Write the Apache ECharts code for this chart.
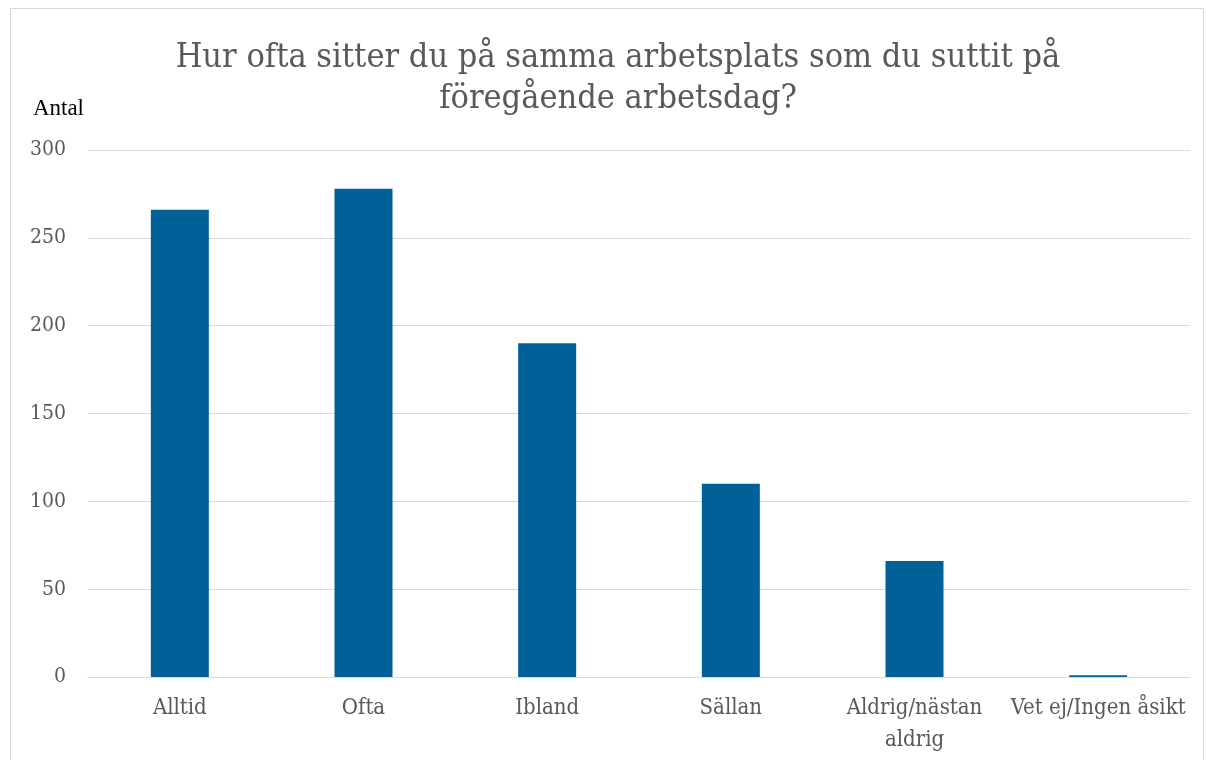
<!DOCTYPE html>
<html>
<head>
<meta charset="utf-8">
<script src="https://cdn.jsdelivr.net/npm/echarts@6/dist/echarts.min.js"></script>
<style>
  html, body { margin: 0; padding: 0; background: #fff; }
  #chart { width: 1207px; height: 760px; }
</style>
</head>
<body>
<div id="chart"></div>
<script>
const categories = ['Alltid', 'Ofta', 'Ibland', 'Sällan', 'Aldrig/nästan\naldrig', 'Vet ej/Ingen åsikt']
const antal = [266, 278, 190, 110, 66, 1]

const serif = '"DejaVu Serif Condensed", "Liberation Serif", serif'

const chart = echarts.init(document.getElementById('chart'))
chart.setOption({
  animation: false,
  title: {
    text: 'Hur ofta sitter du på samma arbetsplats som du suttit på\nföregående arbetsdag?',
    left: 613,
    textAlign: 'center',
    top: 33,
    textStyle: { fontFamily: serif, fontWeight: 'normal', fontSize: 34, color: '#595959', lineHeight: 41 },
  },
  graphic: [
    { type: 'rect', shape: { x: 10.5, y: 8.5, width: 1193, height: 800 }, style: { fill: 'none', stroke: '#d9d9d9', lineWidth: 1 }, silent: true },
  ],
  grid: { left: 88, right: 17, top: 150, bottom: 83 },
  xAxis: {
    type: 'category',
    data: categories,
    axisLine: { lineStyle: { color: '#d9d9d9' } },
    axisTick: { show: false },
    axisLabel: { color: '#595959', fontFamily: serif, fontSize: 22, margin: 15, lineHeight: 32, interval: 0 },
  },
  yAxis: {
    type: 'value',
    min: 0,
    max: 300,
    interval: 50,
    name: 'Antal',
    nameLocation: 'end',
    nameGap: 30,
    nameTextStyle: { color: '#000', fontFamily: 'Liberation Serif', fontSize: 23, align: 'right', padding: [0, 4, 0, 0] },
    axisLine: { show: false },
    axisTick: { show: false },
    axisLabel: { color: '#595959', fontFamily: serif, fontSize: 21, margin: 22 },
    splitLine: { lineStyle: { color: '#d9d9d9' } },
  },
  series: [
    {
      type: 'bar',
      data: antal,
      barWidth: 58,
      itemStyle: { color: '#006098' },
    },
  ],
})
</script>
</body>
</html>
